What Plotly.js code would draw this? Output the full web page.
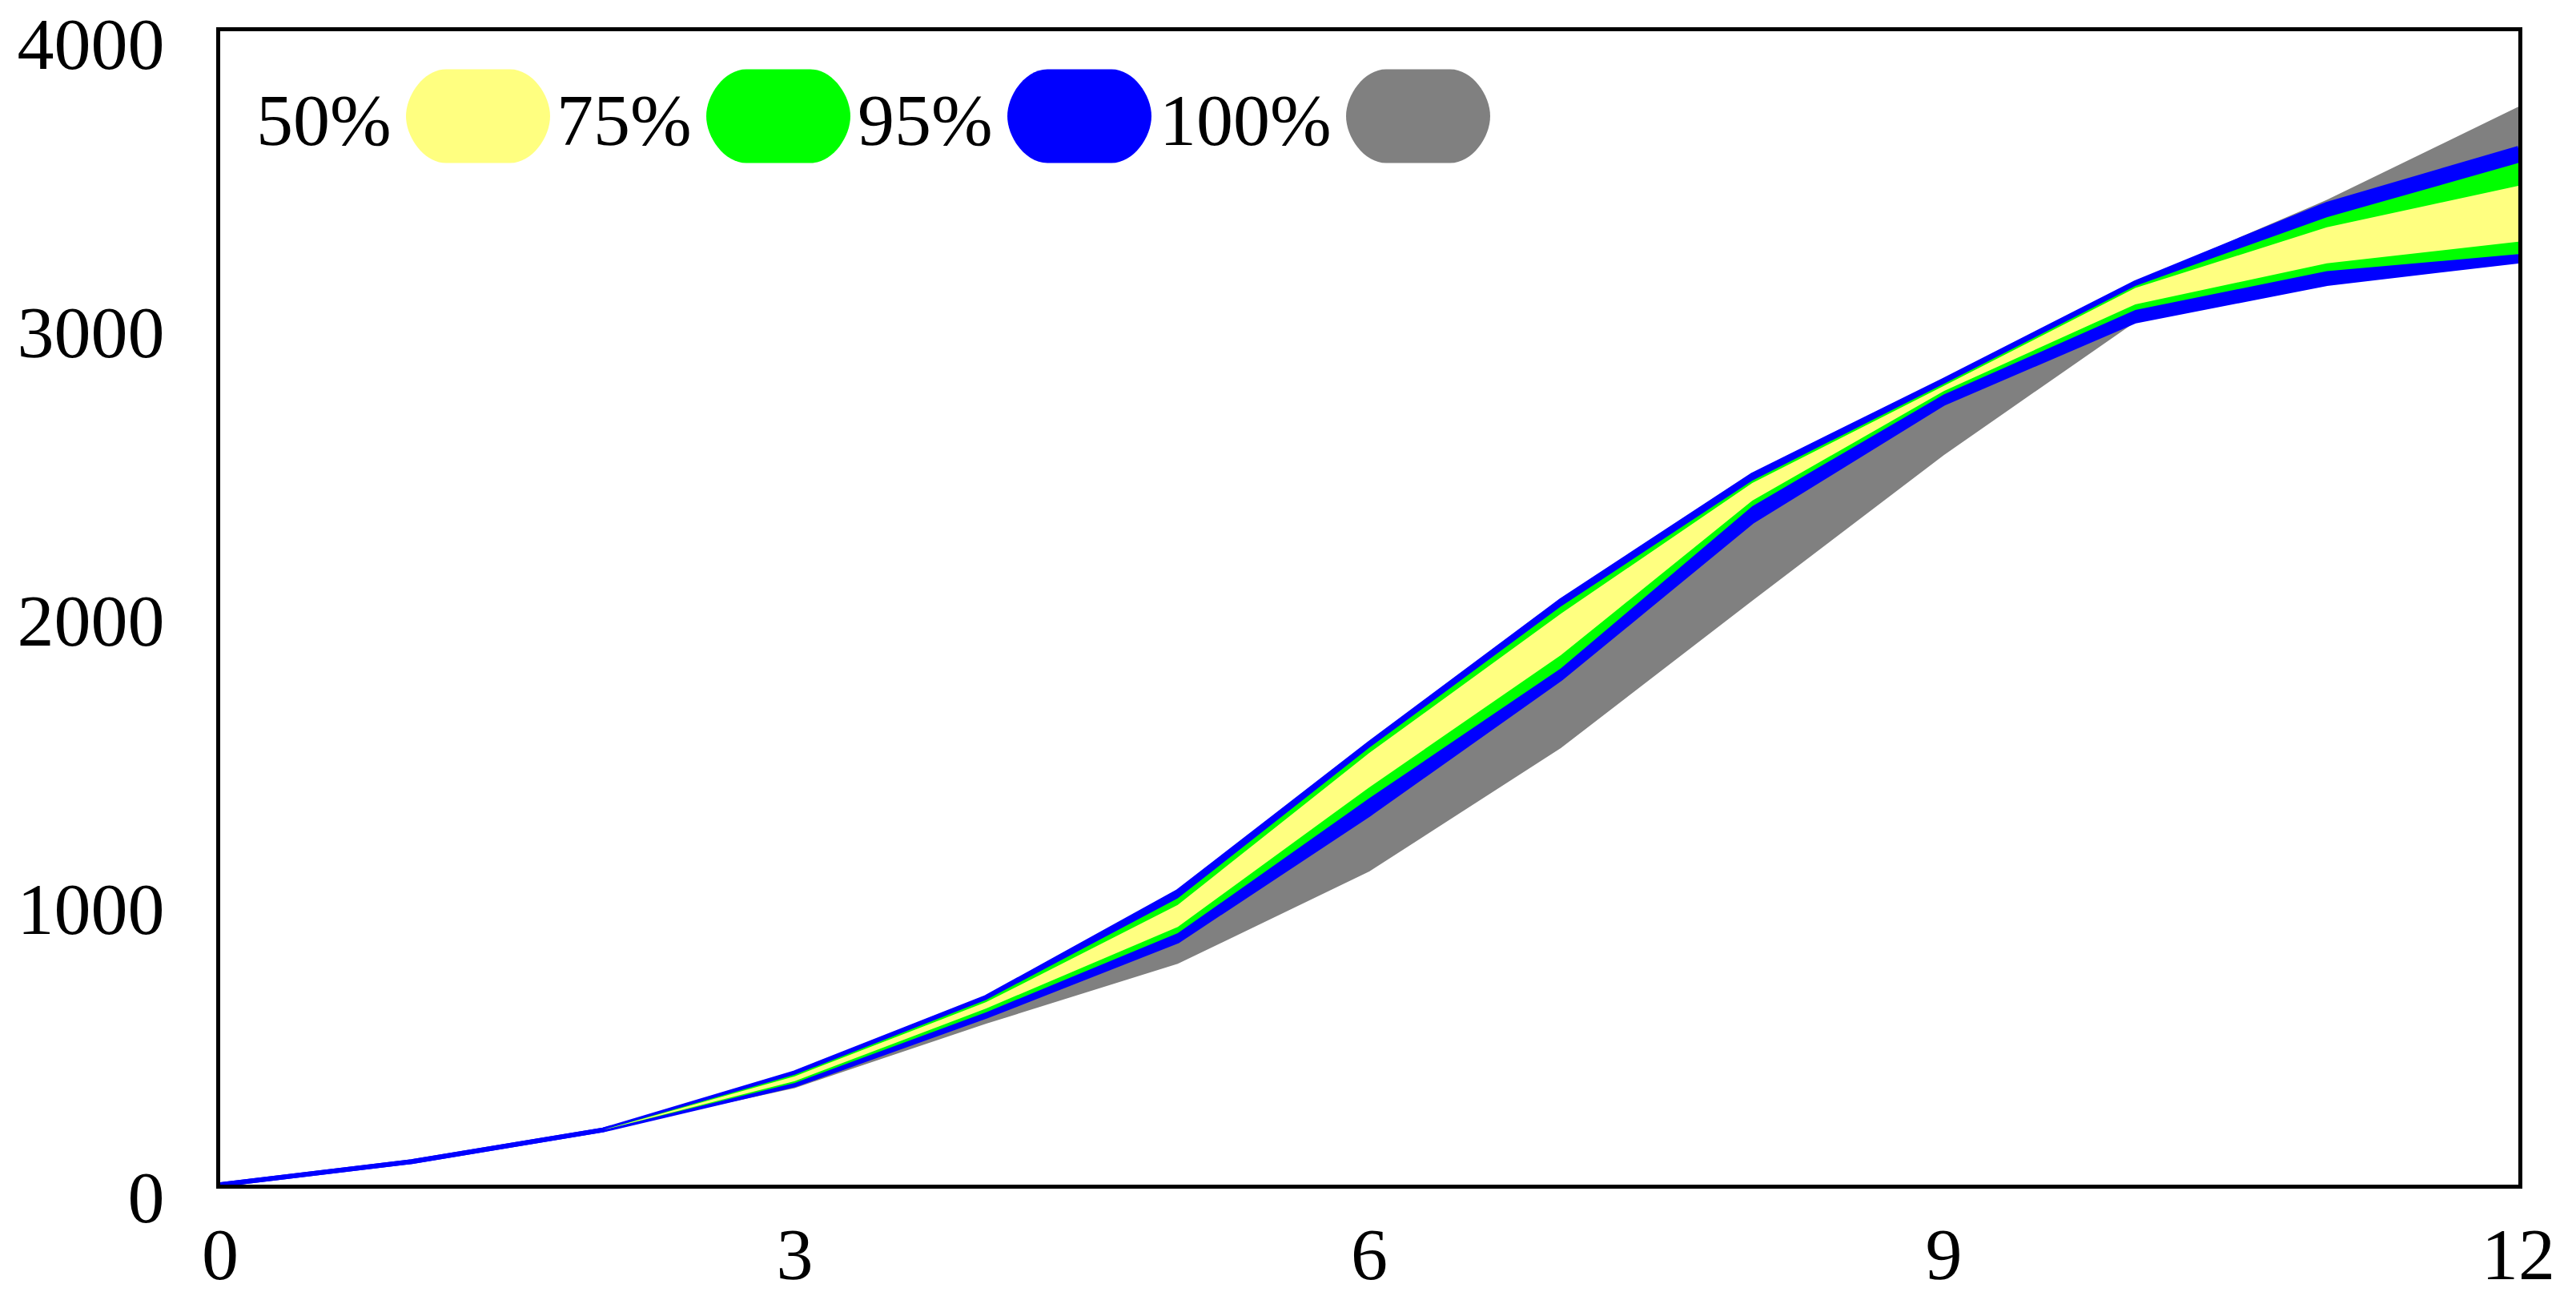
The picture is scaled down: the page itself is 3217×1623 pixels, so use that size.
<!DOCTYPE html>
<html>
<head>
<meta charset="utf-8">
<script src="https://cdn.plot.ly/plotly-3.0.1.min.js"></script>
<style>
  html, body { margin: 0; padding: 0; background: #ffffff; }
  #chart { width: 3217px; height: 1623px; }
</style>
</head>
<body>
<div id="chart"></div>
<script>
// ---- data ----
const xVals    = [0, 1, 2, 3, 4, 5, 6, 7, 8, 9, 10, 11, 12];
const grayHi   = [0, 80, 190, 388, 650, 1016, 1530, 2030, 2461, 2790, 3130, 3415, 3738];
const grayLo   = [0, 80, 190, 335, 558, 766, 1086, 1514, 2025, 2530, 2992, 3125, 3200];
const blueHi   = [0, 80, 190, 388, 650, 1016, 1530, 2025, 2461, 2790, 3128, 3400, 3594];
const blueLo   = [0, 80, 190, 346, 584, 845, 1285, 1755, 2300, 2710, 2995, 3125, 3203];
const greenHi  = [0, 80, 190, 381, 641, 993, 1515, 2005, 2442, 2777, 3117, 3355, 3543];
const greenLo  = [0, 80, 190, 353, 598, 872, 1340, 1790, 2353, 2740, 3033, 3168, 3227];
const yellowHi = [0, 80, 190, 376, 633, 970, 1497, 1980, 2433, 2770, 3110, 3320, 3464];
const yellowLo = [0, 80, 190, 359, 611, 894, 1378, 1836, 2372, 2752, 3053, 3195, 3270];

const xTicks = [0, 3, 6, 9, 12];
const yTicks = [0, 1000, 2000, 3000, 4000];

const legendLabels = ['50%', '75%', '95%', '100%'];
const legendColors = ['#FFFF80', '#00FF00', '#0000FF', '#808080'];

// ---- layout geometry (pixels) ----
const W = 3217, H = 1623;
const M = { l: 275, r: 72, t: 39, b: 144 };
const plotW = W - M.l - M.r, plotH = H - M.t - M.b;
const px2paperX = px => (px - M.l) / plotW;
const px2paperY = py => (H - M.b - py) / plotH;

function band(lo, hi, color, name, lineW) {
  const lineColor = lineW > 0 ? color : 'rgba(0,0,0,0)';
  return [
    { x: xVals, y: lo, type: 'scatter', mode: 'lines', name: name + ' low',
      line: { color: lineColor, width: lineW }, showlegend: false, hoverinfo: 'skip' },
    { x: xVals, y: hi, type: 'scatter', mode: 'lines', name: name,
      line: { color: lineColor, width: lineW }, fill: 'tonexty', fillcolor: color,
      showlegend: false }
  ];
}

const traces = [].concat(
  band(grayLo, grayHi, legendColors[3], legendLabels[3], 0),
  band(blueLo, blueHi, legendColors[2], legendLabels[2], 6),
  band(greenLo, greenHi, legendColors[1], legendLabels[1], 0),
  band(yellowLo, yellowHi, legendColors[0], legendLabels[0], 0)
);

// ---- custom legend: label followed by a rounded swatch ----
const swatchCentersPx = [597, 972, 1348, 1771];
const swatchCy = 145;
const sw = 180, sh = 117, rx = 50;
const hw = sw / 2, hh = sh / 2, k = 0.552;
const pillPath =
  `M ${-hw + rx},${-hh} L ${hw - rx},${-hh} ` +
  `C ${hw - rx + rx * k},${-hh} ${hw},${-hh * (1 - k)} ${hw},0 ` +
  `C ${hw},${hh * (1 - k)} ${hw - rx + rx * k},${hh} ${hw - rx},${hh} ` +
  `L ${-hw + rx},${hh} ` +
  `C ${-hw + rx - rx * k},${hh} ${-hw},${hh * (1 - k)} ${-hw},0 ` +
  `C ${-hw},${-hh * (1 - k)} ${-hw + rx - rx * k},${-hh} ${-hw + rx},${-hh} Z`;

const shapes = legendColors.map((c, i) => ({
  type: 'path', xref: 'paper', yref: 'paper',
  xsizemode: 'pixel', ysizemode: 'pixel',
  xanchor: px2paperX(swatchCentersPx[i]), yanchor: px2paperY(swatchCy),
  path: pillPath, fillcolor: c, line: { width: 0 }, layer: 'above'
}));

const annotations = legendLabels.map((t, i) => ({
  text: t, xref: 'paper', yref: 'paper',
  x: px2paperX(swatchCentersPx[i] - hw - 16), y: px2paperY(150),
  xanchor: 'right', yanchor: 'middle', showarrow: false,
  font: { family: 'Liberation Serif, Times New Roman, serif', size: 92, color: '#000' }
}));

const tickFont = { family: 'Liberation Serif, Times New Roman, serif', size: 92, color: '#000' };

const layout = {
  width: W, height: H,
  margin: M,
  paper_bgcolor: '#ffffff', plot_bgcolor: '#ffffff',
  showlegend: false,
  xaxis: {
    range: [0, 12], tickvals: xTicks, ticktext: xTicks.map(String),
    showgrid: false, zeroline: false, ticks: '',
    showline: true, mirror: true, linecolor: '#000', linewidth: 5,
    tickfont: tickFont, ticklabelstandoff: 3, ticklabeloverflow: 'allow'
  },
  yaxis: {
    range: [0, 4000], tickvals: yTicks, ticktext: yTicks.map(String),
    showgrid: false, zeroline: false, ticks: '',
    showline: true, mirror: true, linecolor: '#000', linewidth: 5,
    tickfont: tickFont, ticklabelstandoff: 46, ticklabelshift: 15,
    ticklabeloverflow: 'allow'
  },
  shapes: shapes,
  annotations: annotations
};

Plotly.newPlot('chart', traces, layout, { staticPlot: true, displayModeBar: false });
</script>
</body>
</html>
